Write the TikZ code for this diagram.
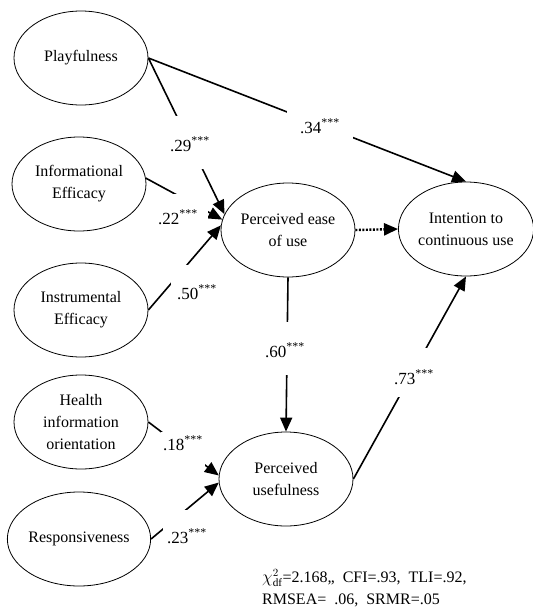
\documentclass[tikz,border=0pt]{standalone}
\usepackage{fontspec}
\setmainfont{Liberation Serif}
\usetikzlibrary{arrows.meta}
\usetikzlibrary{shapes.geometric}

\begin{document}
\begin{tikzpicture}[x=1pt,y=-1pt,
    construit/.style={draw, line width=0.8pt, ellipse, minimum width=134pt, minimum height=94pt,
        inner sep=0pt, align=center, font=\fontsize{16}{22}\selectfont},
    chemin/.style={line width=1.6pt, -{Triangle[length=14pt,width=12pt]}},
    coef/.style={fill=white, inner sep=0pt, anchor=base, font=\fontsize{17}{18}\selectfont}]
    \useasboundingbox (0,0) rectangle (533,614);

    % Variables latentes
    \node[construit] (play) at (81,58) {Playfulness};
    \node[construit] (info) at (79,184) {Informational\\Efficacy};
    \node[construit] (instr) at (81,310) {Instrumental\\Efficacy};
    \node[construit] (health) at (81,422) {Health\\information\\orientation};
    \node[construit] (resp) at (79,539) {Responsiveness};
    \node[construit] (peou) at (288,230) {Perceived ease\\of use};
    \node[construit] (inten) at (466,229) {Intention to\\continuous use};
    \node[construit] (pu) at (286,479) {Perceived\\usefulness};

    % Chemins
    \draw[chemin] (play.east) -- (inten.north);
    \draw[chemin] (play.east) -- (peou.166);
    \draw[chemin] (info.5) -- (peou.171);
    \draw[chemin] (instr.east) -- (peou.176);
    \draw[chemin, dash pattern=on 2pt off 1.5pt, line width=2.4pt] (peou.east) -- (inten.west);
    \draw[chemin] (peou.south) -- (pu.north);
    \draw[chemin] (pu.east) -- (inten.south);
    \draw[chemin] (health.east) -- (pu.177);
    \draw[chemin] (resp.east) -- (pu.183);

    % Coefficients
    \node[coef, minimum width=66pt, text height=23pt, text depth=7pt] (c34) at (320,133) {.34\textsuperscript{***}};
    \node[coef, minimum width=44pt, text height=35pt, text depth=18pt] (c29) at (190,151) {.29\textsuperscript{***}};
    \node[coef, minimum width=60pt, text height=30pt, text depth=4pt] (c22) at (178,224) {.22\textsuperscript{***}};
    \node[coef, minimum width=52pt, text height=34pt, text depth=3pt] (c50) at (197,299) {.50\textsuperscript{***}};
    \node[coef, minimum width=45pt, text height=35pt, text depth=18pt] (c60) at (285,357) {.60\textsuperscript{***}};
    \node[coef, minimum width=44pt, text height=36pt, text depth=13pt] (c73) at (414,384) {.73\textsuperscript{***}};
    \node[coef, minimum width=44pt, text height=18pt, text depth=16pt] (c18) at (183,450) {.18\textsuperscript{***}};
    \node[coef, minimum width=49pt, text height=33pt, text depth=4pt] (c23) at (187,543) {.23\textsuperscript{***}};

    % Indices d'ajustement
    \node[anchor=north west, inner sep=0pt, align=left, font=\fontsize{16}{22}\selectfont] (fit) at (262,569)
        {$\chi^2_{\mathrm{df}}$=2.168,,~ CFI=.93,~ TLI=.92,\\RMSEA=~ .06,~ SRMR=.05};
\end{tikzpicture}
\end{document}
